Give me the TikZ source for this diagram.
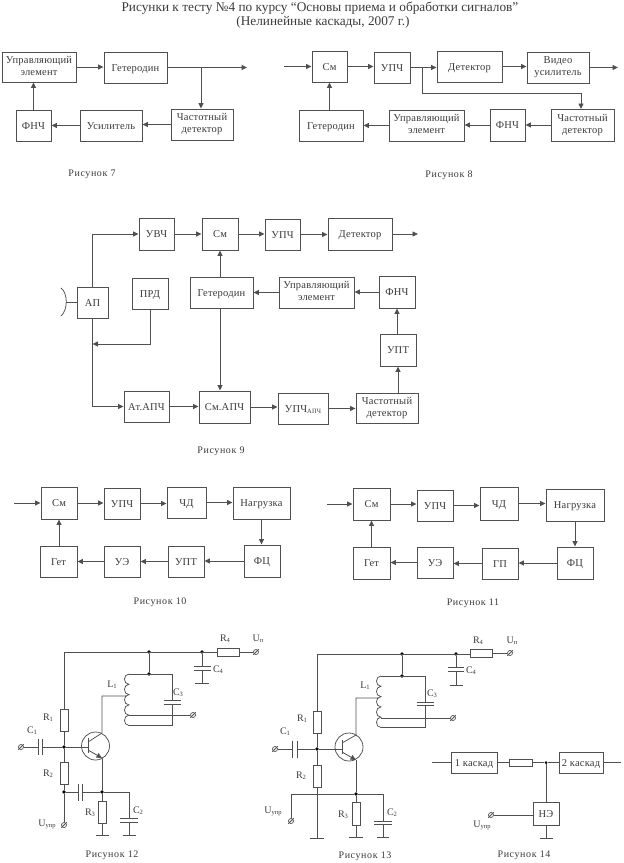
\documentclass[tikz,border=0pt]{standalone}
\usepackage{fontspec}
\setmainfont{Liberation Serif}
\usetikzlibrary{arrows.meta}
\definecolor{ink}{HTML}{3A3A3A}
\definecolor{wireink}{HTML}{505050}
\newcommand{\idx}[1]{\raisebox{-1pt}{\fontsize{6.5}{6.5}\selectfont #1}}
\newcommand{\one}[1]{\raisebox{-1.5pt}{#1}}
\newcommand{\termnode}[2]{\node[termring] (#1) at (#2) {};
  \draw[wire,shorten <=-1pt,shorten >=-1pt] (#1.south west) -- (#1.north east);}
\newcommand{\barh}[2]{\draw[wire] (#1) ++(-#2,0) -- ++({2*#2},0);}
\newcommand{\barv}[2]{\draw[wire] (#1) ++(0,-#2) -- ++(0,{2*#2});}
\newcommand{\coil}[1]{\draw[wire] (#1) \foreach \k in {1,...,5} { .. controls +(-6,0) and +(-6,0) .. ++(0,10.3) };}
\tikzset{
  blockbox/.style={draw=wireink,line width=0.95pt,text=ink,
                   font=\fontsize{10.5}{12}\selectfont\addfontfeature{LetterSpace=2},
                   align=center,inner sep=0pt},
  arrowline/.style={-{Triangle[length=5.5pt,width=5pt]},line width=0.85pt,color=wireink},
  wire/.style={line width=0.75pt,color=wireink},
  res/.style={draw=wireink,line width=0.75pt,inner sep=0pt},
  termring/.style={circle,draw=wireink,line width=0.7pt,minimum size=5pt,inner sep=0pt},
  junc/.style={circle,fill=black,minimum size=3.6pt,inner sep=0pt},
  caption/.style={text=ink,yshift=-1pt,font=\fontsize{10}{12}\selectfont\addfontfeature{LetterSpace=6}},
  lbl/.style={text=ink,font=\fontsize{10}{12}\selectfont,inner sep=0pt},
  titletext/.style={text=ink,yshift=-1.5pt,font=\fontsize{13.3}{14}\selectfont,inner sep=0pt},
}
\begin{document}
\begin{tikzpicture}[x=1pt,y=-1pt]
  \useasboundingbox (0,0) rectangle (624,863);
  \node[titletext] (title1) at (320,7) {Рисунки к тесту №4 по курсу “Основы приема и обработки сигналов”};
  \node[titletext] (title2) at (323,21) {(Нелинейные каскады, 2007 г.)};

  % block diagrams
  \foreach \nm/\xa/\ya/\xb/\yb/\txt in {
    ctrlA/2/52/76/82/{Управляющий\\элемент},
    getA/104/52/167/83/{\one{Гетеродин}},
    detA/171/109/233/140/{Частотный\\детектор},
    ampA/80/110/142/141/{\one{Усилитель}},
    lpfA/16/110/51/141/{\one{ФНЧ}},
    mixB/312/51/347/82/{\one{См}},
    ifB/374/52/410/83/{\one{УПЧ}},
    dmodB/437/51/502/82/{\one{Детектор}},
    vidB/527/52/589/83/{Видео\\усилитель},
    detB/551/109/614/141/{Частотный\\детектор},
    lpfB/490/109/525/141/{\one{ФНЧ}},
    ctrlB/389/110/464/141/{Управляющий\\элемент},
    getB/299/110/363/141/{\one{Гетеродин}},
    rfC/139/218/174/250/{\one{УВЧ}},
    mixC/202/218/238/250/{\one{См}},
    ifC/265/219/300/250/{\one{УПЧ}},
    dmodC/328/218/392/250/{\one{Детектор}},
    apC/77/287/108/318/{\one{АП}},
    txC/132/278/168/309/{\one{ПРД}},
    getC/190/277/253/308/{\one{Гетеродин}},
    ctrlC/279/277/354/308/{Управляющий\\элемент},
    lpfC/379/276/415/308/{\one{ФНЧ}},
    dcC/380/334/416/366/{\one{УПТ}},
    attC/124/391/169/422/{\one{Ат.АПЧ}},
    mixaC/199/391/250/423/{\one{См.АПЧ}},
    ifaC/278/393/328/424/{\one{УПЧ\idx{АПЧ}}},
    detC/356/393/418/423/{Частотный\\детектор},
    mixD/41/487/77/519/{\one{См}},
    ifD/104/488/140/519/{\one{УПЧ}},
    fdD/167/487/206/518/{\one{ЧД}},
    loadD/233/487/290/519/{\one{Нагрузка}},
    fcD/244/545/280/577/{\one{ФЦ}},
    dcD/168/546/204/577/{\one{УПТ}},
    ueD/104/546/140/577/{\one{УЭ}},
    getD/40/546/77/577/{\one{Гет}},
    mixE/353/488/390/520/{\one{См}},
    ifE/417/490/453/521/{\one{УПЧ}},
    fdE/480/487/518/520/{\one{ЧД}},
    loadE/546/489/604/521/{\one{Нагрузка}},
    fcE/557/547/593/579/{\one{ФЦ}},
    gpE/482/548/518/579/{\one{ГП}},
    ueE/417/547/453/578/{\one{УЭ}},
    getE/353/547/390/579/{\one{Гет}},
    firstF/451/752/497/773/{\one{1 каскад}},
    secondF/559/752/603/773/{\one{2 каскад}},
    neF/533/802/559/825/{\one{НЭ}}%
  }{
    \node[blockbox,minimum width={(\xb-\xa)*1pt},minimum height={(\yb-\ya)*1pt}]
      (\nm) at ({(\xa+\xb)/2},{(\ya+\yb)/2}) {\strut\txt\strut};
  }

  % free ends of the arrows
  \coordinate (outA) at (247,67.5);
  \coordinate (inB) at (284,66.5);
  \coordinate (outB) at (618,67.5);
  \coordinate (outC) at (418,234);
  \coordinate (inD) at (14,503);
  \coordinate (inE) at (327,504);
  \coordinate (tapA) at (201,67.5);
  \coordinate (tapB) at (422,67.5);
  \coordinate (tapC) at (92.5,344);

  \foreach \a/\b in {ctrlA/getA,mixB/ifB,ifB/dmodB,dmodB/vidB,rfC/mixC,mixC/ifC,ifC/dmodC,
                     attC/mixaC,mixaC/ifaC,ifaC/detC,mixD/ifD,ifD/fdD,fdD/loadD,
                     mixE/ifE,ifE/fdE,fdE/loadE}
    \draw[arrowline] (\a.east) -- (\a.east -| \b.west);
  \foreach \a/\b in {detA/ampA,ampA/lpfA,detB/lpfB,lpfB/ctrlB,ctrlB/getB,ctrlC/getC,lpfC/ctrlC,
                     fcD/dcD,dcD/ueD,ueD/getD,fcE/gpE,gpE/ueE,ueE/getE}
    \draw[arrowline] (\a.west) -- (\a.west -| \b.east);
  \foreach \a/\b in {getB/mixB,getC/mixC,detC/dcC,dcC/lpfC,getD/mixD,getE/mixE}
    \draw[arrowline] (\a.north -| \b.south) -- (\b.south);
  \foreach \a/\b in {loadD/fcD,loadE/fcE}
    \draw[arrowline] (\a.south) -- (\a.south |- \b.north);
  \draw[arrowline] (lpfA.north) -- (lpfA.north |- ctrlA.south);
  \draw[arrowline] (getC.south -| mixC.south) -- (mixC.south |- mixaC.north);

  \draw[arrowline] (getA.east) -- (outA);
  \draw[arrowline] (tapA) -- (tapA |- detA.north);
  \draw[arrowline] (inB) -- (mixB.west);
  \draw[arrowline] (vidB.east) -- (outB);
  \draw[arrowline] (tapB) -- (422,93) -- (581,93) -- (581,109);
  \draw[arrowline] (dmodC.east) -- (outC);
  \draw[arrowline] (apC.north) |- (rfC.west);
  \draw[arrowline] (apC.south) |- (attC.west);
  \draw[arrowline] (txC.south) |- (tapC);
  \draw[arrowline] (inD) -- (mixD.west);
  \draw[arrowline] (inE) -- (mixE.west);

  % antenna
  \coordinate (antA) at (66,302.5);
  \draw[wire] (antA) -- (apC.west);
  \draw[wire] (61,288) .. controls (68,293) and (68,310) .. (61,316);

  % Рисунок 12
  \node[res,minimum width=8pt,minimum height=22pt] (r1L) at (64,720) {};
  \node[res,minimum width=8pt,minimum height=22pt] (r2L) at (64,773) {};
  \node[res,minimum width=8pt,minimum height=22pt] (r3L) at (102,812) {};
  \node[res,minimum width=22pt,minimum height=8pt] (r4L) at (228,652) {};
  \node[junc] (j1L) at (149,652) {};
  \node[junc] (j2L) at (202,652) {};
  \node[junc] (j3L) at (149,674) {};
  \node[junc] (j4L) at (64,747) {};
  \node[junc] (j5L) at (64,792) {};
  \node[junc] (j6L) at (102,792) {};
  \node[circle,draw=wireink,line width=0.75pt,minimum size=28pt,inner sep=0pt] (qL) at (95.5,746) {};
  \termnode{t1L}{256,652}
  \termnode{t2L}{193,715}
  \termnode{t3L}{21,747}
  \termnode{t4L}{64,825}
  \coordinate (topL) at (64,652);
  \draw[wire] (r1L.north) -- (topL) -- (r4L.west);
  \draw[wire] (r4L.east) -- (t1L);
  \draw[wire] (j1L) -- (j3L);
  \draw[wire] (r1L.south) -- (j4L) -- (r2L.north);
  \draw[wire] (r2L.south) -- (j5L) -- (t4L);
  \coil{129,674}
  \draw[wire] (129,674) -- (172,674) -- (172,700);
  \draw[wire] (172,704) -- (172,725.5) -- (129,725.5);
  \draw[wire] (129,715) -- (t2L);
  \barh{172,700}{8.5}
  \barh{172,704}{8.5}
  \draw[wire] (j2L) -- (202,666);
  \draw[wire] (202,670) -- (202,683);
  \barh{202,666}{8.5}
  \barh{202,670}{8.5}
  \barh{202,683}{7}
  \draw[wire] (t3L) -- (38,747);
  \draw[wire] (42,747) -- (j4L) -- (88,747);
  \barv{38,747}{8}
  \barv{42,747}{8}
  \draw[wire] (88,738) -- (88,753);
  \draw[wire] (88,742) -- (102,733) -- (102,696) -- (127,696);
  \draw[arrowline] (88,750) -- (102,758);
  \draw[wire] (102,758) -- (j6L);
  \draw[wire] (j5L) -- (78,792);
  \draw[wire] (82,792) -- (j6L) -- (129,792) -- (129,818);
  \barv{78,792}{8.5}
  \barv{82,792}{8.5}
  \draw[wire] (j6L) -- (r3L.north);
  \draw[wire] (r3L.south) -- (102,835);
  \barh{102,835}{6.5}
  \draw[wire] (129,822) -- (129,835);
  \barh{129,818}{9}
  \barh{129,822}{9}
  \barh{129,835}{6.5}
  \node[lbl] (labR1L) at (48,718) {R\idx{1}};
  \node[lbl] (labR2L) at (48,774) {R\idx{2}};
  \node[lbl] (labR3L) at (90,813) {R\idx{3}};
  \node[lbl] (labR4L) at (225,639) {R\idx{4}};
  \node[lbl] (labC1L) at (32,731) {C\idx{1}};
  \node[lbl] (labC2L) at (138,811) {C\idx{2}};
  \node[lbl] (labC3L) at (178,693) {C\idx{3}};
  \node[lbl] (labC4L) at (218,670) {C\idx{4}};
  \node[lbl] (labLL) at (112,685) {L\idx{1}};
  \node[lbl] (labUnL) at (258,639) {U\idx{п}};
  \node[lbl] (labUyL) at (47,824) {U\idx{упр}};

  % Рисунок 13
  \node[res,minimum width=8pt,minimum height=22pt] (r1R) at (317,722) {};
  \node[res,minimum width=8pt,minimum height=22pt] (r2R) at (317,776) {};
  \node[res,minimum width=8pt,minimum height=23pt] (r3R) at (356,814) {};
  \node[res,minimum width=22pt,minimum height=8pt] (r4R) at (481,653) {};
  \node[junc] (j1R) at (402,654) {};
  \node[junc] (j2R) at (456,654) {};
  \node[junc] (j3R) at (402,676) {};
  \node[junc] (j4R) at (317,749) {};
  \node[junc] (j6R) at (356,794) {};
  \node[circle,draw=wireink,line width=0.75pt,minimum size=28pt,inner sep=0pt] (qR) at (349,747) {};
  \termnode{t1R}{510,653}
  \termnode{t2R}{453,718}
  \termnode{t3R}{275,749}
  \termnode{t4R}{291,821}
  \coordinate (topR) at (317,654);
  \draw[wire] (r1R.north) -- (topR) -- (470,654);
  \draw[wire] (r4R.east) -- (t1R);
  \draw[wire] (j1R) -- (j3R);
  \draw[wire] (r1R.south) -- (j4R) -- (r2R.north);
  \draw[wire] (r2R.south) -- (317,838);
  \barh{317,838}{7}
  \coil{381,676}
  \draw[wire] (381,676) -- (425,676) -- (425,702);
  \draw[wire] (425,705) -- (425,727.5) -- (381,727.5);
  \draw[wire] (381,718) -- (t2R);
  \barh{425,702}{8.5}
  \barh{425,705.5}{8.5}
  \draw[wire] (j2R) -- (456,667);
  \draw[wire] (456,671) -- (456,685);
  \barh{456,667}{8}
  \barh{456,671}{8}
  \barh{456,685}{6.5}
  \draw[wire] (t3R) -- (292,749);
  \draw[wire] (297,749) -- (j4R) -- (342,749);
  \barv{292,749}{8.5}
  \barv{297,749}{8.5}
  \draw[wire] (342,740) -- (342,754);
  \draw[wire] (342,743) -- (356,735) -- (356,698) -- (379,698);
  \draw[arrowline] (342,752) -- (356,760);
  \draw[wire] (356,760) -- (j6R);
  \draw[wire] (t4R) -- (291,794) -- (j6R) -- (383,794) -- (383,821);
  \draw[wire] (j6R) -- (r3R.north);
  \draw[wire] (r3R.south) -- (356,837);
  \barh{356,837}{7}
  \draw[wire] (383,824) -- (383,837);
  \barh{383,821}{9}
  \barh{383,824.5}{9}
  \barh{383,837}{6}
  \node[lbl] (labR1R) at (302,719) {R\idx{1}};
  \node[lbl] (labR2R) at (301,776) {R\idx{2}};
  \node[lbl] (labR3R) at (343,815) {R\idx{3}};
  \node[lbl] (labR4R) at (478,641) {R\idx{4}};
  \node[lbl] (labC1R) at (285,732) {C\idx{1}};
  \node[lbl] (labC2R) at (392,813) {C\idx{2}};
  \node[lbl] (labC3R) at (432,694) {C\idx{3}};
  \node[lbl] (labC4R) at (471,671) {C\idx{4}};
  \node[lbl] (labLR) at (365,686) {L\idx{1}};
  \node[lbl] (labUnR) at (512,641) {U\idx{п}};
  \node[lbl] (labUyR) at (273,811) {U\idx{упр}};

  % Рисунок 14
  \node[res,minimum width=23pt,minimum height=7pt] (rF) at (520.5,762.5) {};
  \node[junc,minimum size=3pt] (jF) at (546,762.5) {};
  \termnode{tF}{491,815}
  \coordinate (inF) at (432,762.5);
  \coordinate (outF) at (621,762.5);
  \coordinate (gndF) at (546,838);
  \draw[wire] (inF) -- (firstF.west);
  \draw[wire] (secondF.east) -- (outF);
  \draw[wire] (firstF.east) -- (rF.west);
  \draw[wire] (rF.east) -- (jF) -- (secondF.west);
  \draw[wire] (jF) -- (jF |- neF.north);
  \draw[wire] (neF.south) -- (gndF);
  \barh{546,838}{6.5}
  \draw[wire] (tF) -- (tF -| neF.west);
  \node[lbl] (labUyF) at (482,825) {U\idx{упр}};

  % captions
  \foreach \nm/\x/\y/\txt in {capA/92/173/Рисунок 7,capB/449/174/Рисунок 8,capC/221/450/Рисунок 9,
      capD/160/601/Рисунок 10,capE/473/602/Рисунок 11,capF/112/854/Рисунок 12,
      capG/365/855/Рисунок 13,capH/524/854/Рисунок 14}
    \node[caption] (\nm) at (\x,\y) {\txt};
\end{tikzpicture}
\end{document}
